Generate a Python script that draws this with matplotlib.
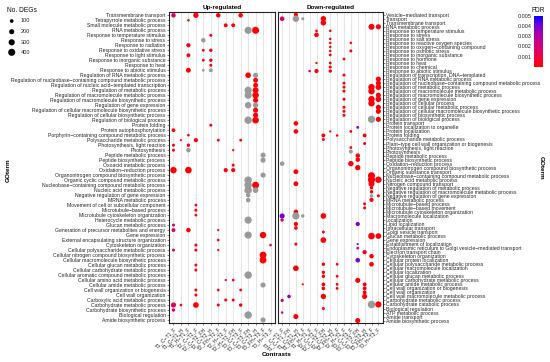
import numpy as np
import matplotlib
matplotlib.use("Agg")
import matplotlib.pyplot as plt
from matplotlib.colors import LinearSegmentedColormap, Normalize
from matplotlib.colorbar import ColorbarBase

plt.rcParams['font.family'] = ['Liberation Sans', 'DejaVu Sans']

# ---------------- data ----------------
up_terms = [
    "Transmembrane transport", "Tetrapyrrole metabolic process", "Small molecule metabolic process",
    "RNA metabolic process", "Response to temperature stimulus", "Response to stress",
    "Response to radiation", "Response to oxidative stress", "Response to light stimulus",
    "Response to inorganic substance", "Response to heat", "Response to abiotic stimulus",
    "Regulation of RNA metabolic process",
    "Regulation of nucleobase\u2212containing compound metabolic process",
    "Regulation of nucleic acid\u2212templated transcription", "Regulation of metabolic process",
    "Regulation of macromolecule metabolic process", "Regulation of macromolecule biosynthetic process",
    "Regulation of gene expression", "Regulation of cellular macromolecule biosynthetic process",
    "Regulation of cellular biosynthetic process", "Regulation of biological process",
    "Protein folding", "Protein autophosphorylation",
    "Porphyrin\u2212containing compound metabolic process", "Polysaccharide metabolic process",
    "Photosynthesis, light reaction", "Photosynthesis", "Peptide metabolic process",
    "Peptide biosynthetic process", "Oxoacid metabolic process", "Oxidation\u2212reduction process",
    "Organonitrogen compound biosynthetic process", "Organic cyclic compound metabolic process",
    "Nucleobase\u2212containing compound metabolic process", "Nucleic acid metabolic process",
    "Negative regulation of gene expression", "MRNA metabolic process",
    "Movement of cell or subcellular component", "Microtubule\u2212based process",
    "Microtubule cytoskeleton organization", "Heterocycle metabolic process",
    "Glucan metabolic process", "Generation of precursor metabolites and energy", "Gene expression",
    "External encapsulating structure organization", "Cytoskeleton organization",
    "Cellular polysaccharide metabolic process", "Cellular nitrogen compound biosynthetic process",
    "Cellular macromolecule biosynthetic process", "Cellular glucan metabolic process",
    "Cellular carbohydrate metabolic process", "Cellular aromatic compound metabolic process",
    "Cellular amino acid metabolic process", "Cellular amide metabolic process",
    "Cell wall organization or biogenesis", "Cell wall organization",
    "Carboxylic acid metabolic process", "Carbohydrate metabolic process",
    "Carbohydrate biosynthetic process", "Biological regulation", "Amide biosynthetic process",
]

down_terms = [
    "Vesicle\u2212mediated transport", "Transport", "Transmembrane transport", "RNA metabolic process",
    "Response to temperature stimulus", "Response to stress", "Response to salt stress",
    "Response to reactive oxygen species", "Response to oxygen\u2212containing compound",
    "Response to osmotic stress", "Response to inorganic substance", "Response to hormone",
    "Response to heat", "Response to chemical", "Response to abiotic stimulus",
    "Regulation of transcription, DNA\u2212templated", "Regulation of RNA metabolic process",
    "Regulation of nucleobase\u2212containing compound metabolic process",
    "Regulation of metabolic process", "Regulation of macromolecule metabolic process",
    "Regulation of macromolecule biosynthetic process", "Regulation of gene expression",
    "Regulation of cellular process", "Regulation of cellular metabolic process",
    "Regulation of cellular macromolecule biosynthetic process", "Regulation of biosynthetic process",
    "Regulation of biological process", "Protein transport", "Protein localization to organelle",
    "Protein localization", "Protein folding", "Polysaccharide metabolic process",
    "Plant\u2212type cell wall organization or biogenesis", "Photosynthesis, light reaction",
    "Photosynthesis", "Peptide metabolic process", "Peptide biosynthetic process",
    "Oxidation\u2212reduction process", "Organonitrogen compound biosynthetic process",
    "Organic substance transport", "Nucleobase\u2212containing compound metabolic process",
    "Nucleic acid metabolic process", "Nitrogen compound transport",
    "Negative regulation of metabolic process", "Negative regulation of macromolecule metabolic process",
    "Negative regulation of gene expression", "MRNA metabolic process", "Microtubule\u2212based process",
    "Microtubule\u2212based movement", "Microtubule cytoskeleton organization",
    "Macromolecule localization", "Localization", "Lipid localization", "Intracellular transport",
    "Golgi vesicle transport", "Glucan metabolic process", "Gene expression",
    "Establishment of localization", "Endoplasmic reticulum to Golgi vesicle\u2212mediated transport",
    "Electron transport chain", "Cytoskeleton organization", "Cellular protein localization",
    "Cellular polysaccharide metabolic process", "Cellular macromolecule localization",
    "Cellular localization", "Cellular glucan metabolic process", "Cellular carbohydrate metabolic process",
    "Cellular amide metabolic process", "Cell wall organization or biogenesis", "Cell wall organization",
    "Cell wall macromolecule metabolic process", "Carbohydrate metabolic process",
    "Carbohydrate catabolic process", "Biological regulation", "ATP metabolic process",
    "Amide transport", "Amide biosynthetic process",
]

up_contrasts = ["T1_C\u2212T1_F", "T1_C\u2212T1_H", "T1_H\u2212T1_F", "T2_C\u2212T2_F",
                "T2_C\u2212T2_FH", "T2_C\u2212T2_H", "T2_FH\u2212T2_F", "T2_H\u2212T2_F",
                "T2_H\u2212T2_FH", "T3_C\u2212T3_F", "T3_C\u2212T3_FH", "T3_C\u2212T3_H",
                "T3_FH\u2212T3_F", "T3_H\u2212T3_F"]
down_contrasts = ["T1_C\u2212T1_F", "T1_C\u2212T1_FH", "T1_C\u2212T1_H", "T1_FH\u2212T1_F",
                  "T1_H\u2212T1_F", "T2_C\u2212T2_F", "T2_C\u2212T2_FH", "T2_C\u2212T2_H",
                  "T2_FH\u2212T2_F", "T2_H\u2212T2_F", "T3_C\u2212T3_F", "T3_C\u2212T3_FH",
                  "T3_C\u2212T3_H", "T3_FH\u2212T3_F", "T3_H\u2212T3_F"]

N = np.nan
# Up-regulated: term index, contrast index, number of DEGs, FDR (nan = not significant, grey)
up_term = [0,0,0,0,1,2,2,3,3,4,5,6,7,7,8,9,9,10,11,11,11,12,12,13,14,15,15,16,16,17,18,18,19,20,21,21,
           22,23,24,25,25,25,25,26,26,27,27,27,28,29,30,31,31,31,31,32,33,34,34,35,35,36,37,38,39,40,41,
           42,43,43,43,44,44,45,46,46,47,47,47,48,49,50,51,52,53,53,54,55,55,55,56,57,57,58,58,58,58,58,
           59,60,61]
up_con = [0,3,6,9,2,7,8,10,11,5,4,2,4,5,2,4,5,5,2,4,5,10,11,11,11,10,11,10,11,11,10,11,11,11,10,11,
          5,0,2,1,3,6,9,0,2,0,2,8,12,12,8,0,2,7,8,12,10,10,11,10,11,10,10,3,3,3,10,
          0,0,2,6,10,12,6,3,13,0,3,6,12,12,3,3,10,7,8,12,3,6,9,3,7,8,0,1,3,6,9,
          0,10,12]
up_n = [150,220,150,150,40,110,110,420,400,60,150,130,50,80,110,50,80,60,180,50,110,250,200,180,180,420,280,420,330,200,330,220,200,200,450,350,
        60,100,45,25,130,50,50,60,80,60,150,30,200,200,60,330,350,130,130,200,450,450,380,450,250,150,150,50,60,50,420,
        60,110,150,30,420,330,45,60,45,60,60,30,380,380,60,60,450,30,50,200,60,45,50,60,60,60,200,45,250,60,80,
        80,450,200]
up_fdr = [0.0018,1e-4,1e-4,1e-4,1e-4,1e-4,1e-4,N,1e-4,1e-4,N,1e-4,1e-4,1e-4,1e-4,1e-4,1e-4,1e-4,1e-4,N,N,1e-4,N,1e-4,1e-4,N,1e-4,N,1e-4,1e-4,N,N,1e-4,1e-4,N,1e-4,
          1e-4,1e-4,1e-4,1e-4,1e-4,1e-4,1e-4,1e-4,1e-4,1e-4,N,1e-4,N,N,1e-4,1e-4,1e-4,1e-4,1e-4,N,N,N,1e-4,N,N,N,N,1e-4,1e-4,1e-4,N,
          0.0015,0.0018,1e-4,1e-4,N,1e-4,1e-4,1e-4,0.0016,0.0017,1e-4,1e-4,1e-4,1e-4,1e-4,1e-4,N,0.0016,0.0016,N,1e-4,1e-4,1e-4,1e-4,1e-4,1e-4,0.0016,1e-4,1e-4,1e-4,1e-4,
          0.0016,N,N]

# Down-regulated
down_term = [0,1,1,1,1,2,3,3,4,5,4,6,7,8,9,10,7,9,11,12,12,13,14,14,14,15,17,18,19,21,23,24,25,18,19,21,22,
             16,17,18,20,21,23,24,26,26,27,28,29,30,31,29,30,29,30,33,34,32,35,36,37,38,37,39,40,41,42,41,
             43,44,45,46,45,42,47,48,49,50,51,50,50,50,52,53,52,54,56,55,55,57,57,58,59,61,60,62,62,62,63,
             64,65,65,66,67,67,68,68,67,68,69,70,70,67,71,70,72,72,73,74,75,76]
down_con = [2,0,2,3,6,6,13,14,5,5,7,7,7,7,7,7,10,10,9,5,7,7,7,4,5,9,9,9,9,9,9,9,9,13,13,13,13,
            14,14,14,14,14,14,14,14,13,2,11,2,6,6,7,8,10,12,10,10,12,11,11,10,11,0,2,13,13,13,14,
            13,13,13,13,14,2,12,12,2,0,0,2,3,6,2,2,11,6,6,13,14,2,11,11,12,11,13,13,6,8,2,
            6,6,8,11,6,8,6,8,12,12,12,12,6,3,0,1,13,14,6,0,2,11]
down_n = [130,160,330,60,230,230,280,200,45,160,40,40,40,40,40,50,40,60,50,30,50,60,80,40,130,60,60,60,60,60,60,60,60,330,330,330,330,
          200,200,250,200,250,200,200,200,420,160,50,160,110,60,30,40,50,110,50,110,60,150,150,220,220,150,180,400,420,280,330,
          80,80,80,130,60,180,60,60,160,200,80,420,80,250,130,90,130,60,250,350,250,60,25,50,130,160,150,160,80,50,250,
          80,80,50,200,100,50,90,50,110,110,110,200,220,25,70,90,450,300,60,40,200,200]
down_fdr = [1e-4,0.0018,N,N,1e-4,1e-4,1e-4,1e-4,1e-4,1e-4,1e-4,1e-4,1e-4,1e-4,1e-4,1e-4,1e-4,1e-4,1e-4,1e-4,1e-4,1e-4,1e-4,0.0018,1e-4,1e-4,1e-4,1e-4,1e-4,1e-4,1e-4,1e-4,1e-4,1e-4,1e-4,1e-4,1e-4,
            1e-4,1e-4,1e-4,1e-4,1e-4,1e-4,1e-4,1e-4,N,1e-4,0.0038,1e-4,1e-4,1e-4,1e-4,1e-4,1e-4,1e-4,1e-4,N,1e-4,1e-4,1e-4,1e-4,1e-4,N,1e-4,1e-4,1e-4,1e-4,1e-4,
            1e-4,1e-4,N,1e-4,1e-4,1e-4,1e-4,1e-4,1e-4,0.0038,0.0022,N,N,1e-4,1e-4,1e-4,0.0038,1e-4,1e-4,1e-4,1e-4,1e-4,0.0038,0.0022,1e-4,0.0038,1e-4,1e-4,1e-4,1e-4,1e-4,
            1e-4,1e-4,1e-4,1e-4,1e-4,1e-4,1e-4,1e-4,1e-4,1e-4,1e-4,1e-4,1e-4,1e-4,0.0022,0.0035,N,1e-4,1e-4,0.0022,1e-4,1e-4]

size_breaks = [100, 200, 300, 400]
fdr_ticks = [0.001, 0.002, 0.003, 0.004, 0.005]

# ---------------- styling ----------------
W, H, DPI = 550, 362, 100
cmap = LinearSegmentedColormap.from_list(
    "fdr", ["#FF0000", "#F2003A", "#DE0066", "#C6008C", "#A000B4", "#6A00DA", "#0000FF"])
norm = Normalize(0, 0.005)
GREY = "#9A9A9A"

def s_of(n):
    d_px = 0.45 + 0.33 * np.sqrt(np.asarray(n, float))
    return (d_px * 72.0 / DPI) ** 2

def colors_of(f):
    f = np.asarray(f, float)
    return [GREY if np.isnan(v) else cmap(norm(v)) for v in f]

fig = plt.figure(figsize=(W / DPI, H / DPI), dpi=DPI)

def px_axes(x0, y0, x1, y1):
    return fig.add_axes([x0 / W, 1 - y1 / H, (x1 - x0) / W, (y1 - y0) / H])

TXT = "#262626"
FS = 3.7

def setup(ax, terms, contrasts, title):
    ax.set_xlim(-0.6, len(contrasts) - 0.4)
    ax.set_ylim(len(terms) - 0.4, -0.6)
    ax.set_xticks(range(len(contrasts)))
    ax.set_xticklabels(contrasts, rotation=45, ha="right", va="top",
                       rotation_mode="anchor", fontsize=FS, color=TXT)
    ax.set_yticks(range(len(terms)))
    ax.set_yticklabels(terms, fontsize=FS, color=TXT)
    ax.grid(axis="x", color="#DEDEDE", lw=0.55)
    ax.grid(axis="y", visible=False)
    ax.set_axisbelow(True)
    ax.tick_params(length=1.5, width=0.4, color="#333333", pad=1)
    for sp in ax.spines.values():
        sp.set_color("#222222")
        sp.set_linewidth(0.8)
    ax.set_title(title, fontsize=4.6, fontweight="bold", pad=2.5)

ax1 = px_axes(169, 12.3, 275, 323)
ax2 = px_axes(278, 12.3, 382.5, 323)

setup(ax1, up_terms, up_contrasts, "Up-regulated")
setup(ax2, down_terms, down_contrasts, "Down-regulated")
ax2.yaxis.tick_right()

ax1.scatter(up_con, up_term, s=s_of(up_n), c=colors_of(up_fdr), linewidths=0, zorder=3)
ax2.scatter(down_con, down_term, s=s_of(down_n), c=colors_of(down_fdr), linewidths=0, zorder=3)

fig.text(8 / W, 1 - 170 / H, "GOterm", fontsize=4.6, fontweight="bold",
         rotation=90, ha="center", va="center")
fig.text(541 / W, 1 - 168 / H, "GOterm", fontsize=4.6, fontweight="bold",
         rotation=-90, ha="center", va="center")
fig.text(277 / W, 1 - 355 / H, "Contrasts", fontsize=4.6, fontweight="bold",
         ha="center", va="center")

# size legend
lax = fig.add_axes([0, 0, 1, 1], facecolor="none")
lax.set_xlim(0, W)
lax.set_ylim(H, 0)
lax.axis("off")
lax.text(7, 10, "No. DEGs", fontsize=4.8, ha="left", va="center", color="#111111")
leg_y = [21, 31.7, 42.3, 52.3]
lax.scatter([11.7] * len(size_breaks), leg_y, s=s_of(size_breaks), c="black", linewidths=0)
for yy, b in zip(leg_y, size_breaks):
    lax.text(21, yy, str(b), fontsize=4.0, ha="left", va="center", color=TXT)

# colour bar
cax = px_axes(534, 15.5, 542.5, 66.8)
cb = ColorbarBase(cax, cmap=cmap, norm=norm, orientation="vertical", ticks=fdr_ticks)
cb.outline.set_visible(False)
cax.yaxis.set_ticks_position("left")
cax.tick_params(length=0, labelsize=3.9, labelcolor=TXT, pad=2)
cax.set_yticklabels([f"{t:.3f}" for t in fdr_ticks])
fig.text(538.5 / W, 1 - 10 / H, "FDR", fontsize=4.8, ha="center", va="center", color="#111111")

fig.savefig("out.png", dpi=DPI)
